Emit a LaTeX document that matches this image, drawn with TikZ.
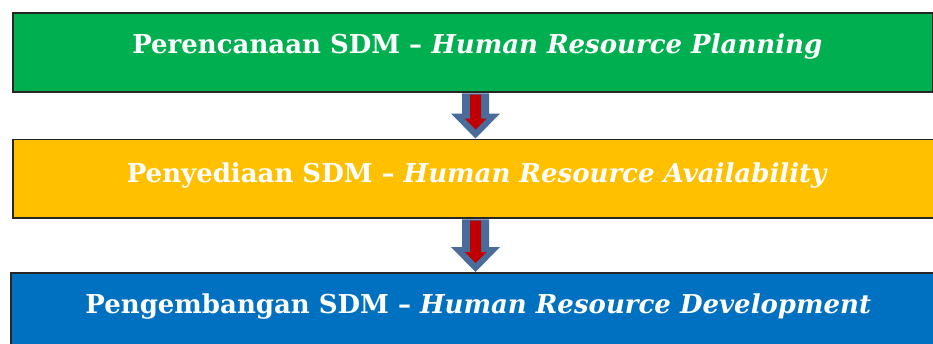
\documentclass[tikz,border=0pt]{standalone}
\usepackage{fontspec}
\setmainfont{DejaVu Serif}
\usetikzlibrary{calc}
\definecolor{plangreen}{HTML}{00B050}
\definecolor{availyellow}{HTML}{FFC000}
\definecolor{devblue}{HTML}{0070C0}
\definecolor{arrowblue}{HTML}{4A6C9B}
\definecolor{arrowred}{HTML}{C00000}
% block arrow from #1 (top) down to #2 (tip): blue body with a red core
\newcommand\stagearrow[2]{%
  \fill[arrowblue] ($(#1)+(-13.5,0.8)$) -- ($(#2)+(-13.5,-25)$) -- ($(#2)+(-24.5,-25)$)
    -- (#2) -- ($(#2)+(24.5,-25)$) -- ($(#2)+(13.5,-25)$) -- ($(#1)+(13.5,0.8)$) -- cycle;
  \fill[arrowred] ($(#1)+(-5.5,2)$) -- ($(#2)+(-5.5,-20)$) -- ($(#2)+(-11,-20)$)
    -- ($(#2)+(0,-9)$) -- ($(#2)+(11,-20)$) -- ($(#2)+(5.5,-20)$) -- ($(#1)+(5.5,2)$) -- cycle;
}
\begin{document}
\begin{tikzpicture}[x=1pt,y=-1pt,
  stage/.style={draw=black!85, line width=1.6pt, anchor=north west, inner sep=0pt,
    text=white, font=\bfseries\fontsize{26}{30}\selectfont},
]
\useasboundingbox (0,0) rectangle (933,343);
\node[stage, fill=plangreen, minimum width=920pt, minimum height=79pt,
  text height=10pt, text depth=7pt] (plan) at (12,12)
  {\hspace*{9pt}Perencanaan SDM -- \textit{Human Resource Planning}};
\node[stage, fill=availyellow, minimum width=929pt, minimum height=78.5pt,
  text height=12pt, text depth=3.5pt] (avail) at (12,138.5)
  {Penyediaan SDM -- \textit{Human Resource Availability}};
\node[stage, fill=devblue, minimum width=935pt, minimum height=79pt,
  text height=10pt, text depth=7pt] (dev) at (10,272)
  {Pengembangan SDM -- \textit{Human Resource Development}};
\coordinate (ax) at (475.5,0);
\coordinate (a1top) at (plan.south -| ax);
\coordinate (a1tip) at (avail.north -| ax);
\coordinate (a2top) at (avail.south -| ax);
\coordinate (a2tip) at (dev.north -| ax);
\stagearrow{a1top}{a1tip}
\stagearrow{a2top}{a2tip}
\end{tikzpicture}
\end{document}
